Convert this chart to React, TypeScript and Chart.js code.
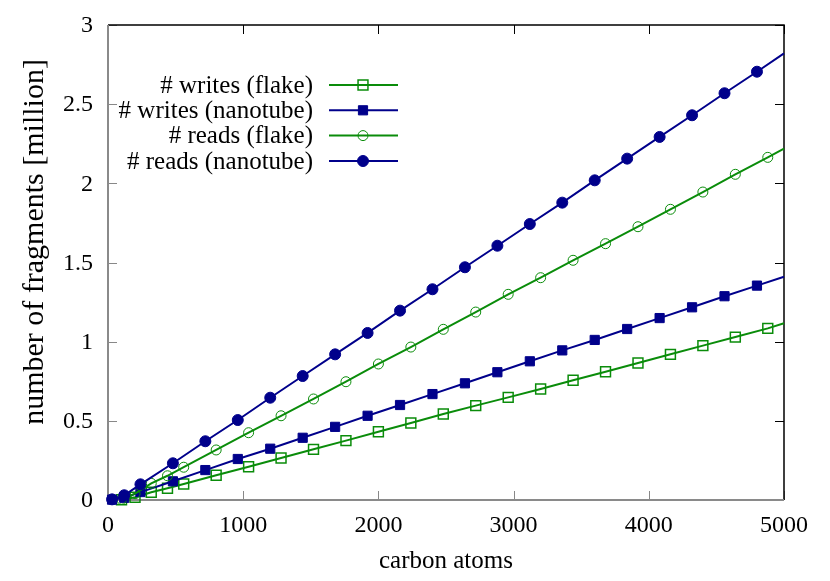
import React, { useEffect, useRef } from 'react';
import { Chart, registerables } from 'chart.js';

Chart.register(...registerables);

// ---- data ----
const xTicks = [0, 1000, 2000, 3000, 4000, 5000];
const xTickLabels = ['0', '1000', '2000', '3000', '4000', '5000'];
const yTicks = [0, 0.5, 1, 1.5, 2, 2.5, 3];
const yTickLabels = ['0', '0.5', '1', '1.5', '2', '2.5', '3'];

const seriesNames = ['# writes (flake)', '# writes (nanotube)', '# reads (flake)', '# reads (nanotube)'];

const flakeAtoms = [100, 200, 320, 440, 560, 800, 1040, 1280, 1520, 1760, 2000, 2240, 2480, 2720, 2960, 3200, 3440, 3680, 3920, 4160, 4400, 4640, 4880, 5000];
const writesFlake = [0.002, 0.017, 0.049, 0.074, 0.101, 0.156, 0.21, 0.265, 0.32, 0.375, 0.431, 0.486, 0.543, 0.596, 0.648, 0.701, 0.756, 0.81, 0.865, 0.92, 0.975, 1.029, 1.084, 1.116];
const readsFlake = [0.005, 0.04, 0.105, 0.153, 0.207, 0.316, 0.425, 0.532, 0.638, 0.747, 0.859, 0.966, 1.078, 1.187, 1.299, 1.404, 1.514, 1.619, 1.726, 1.836, 1.945, 2.057, 2.164, 2.219];

const nanotubeAtoms = [30, 120, 240, 480, 720, 960, 1200, 1440, 1680, 1920, 2160, 2400, 2640, 2880, 3120, 3360, 3600, 3840, 4080, 4320, 4560, 4800, 5000];
const writesNanotube = [0.002, 0.014, 0.05, 0.118, 0.189, 0.259, 0.324, 0.393, 0.462, 0.532, 0.6, 0.669, 0.737, 0.807, 0.876, 0.945, 1.011, 1.08, 1.149, 1.217, 1.287, 1.354, 1.41];
const readsNanotube = [0.004, 0.03, 0.099, 0.232, 0.371, 0.505, 0.646, 0.783, 0.92, 1.055, 1.196, 1.331, 1.47, 1.606, 1.743, 1.878, 2.019, 2.156, 2.293, 2.43, 2.569, 2.705, 2.821];

const GREEN = '#0a8c0a';
const BLUE = '#00008b';
const SERIF = '"Liberation Serif", "DejaVu Serif", serif';

type Style = { color: string; shape: 'rect' | 'circle'; filled: boolean; radius: number; bw: number };
const styles: Style[] = [
  { color: GREEN, shape: 'rect', filled: false, radius: 7, bw: 1.5 },
  { color: BLUE, shape: 'rect', filled: true, radius: 6.5, bw: 1 },
  { color: GREEN, shape: 'circle', filled: false, radius: 5, bw: 1 },
  { color: BLUE, shape: 'circle', filled: true, radius: 5.5, bw: 1 },
];

const pts = (xs: number[], ys: number[]) => xs.map((x, i) => ({ x, y: ys[i] }));
const radii = (xs: number[], r: number) => xs.map((_, i) => (i === xs.length - 1 ? 0 : r));

const drawMarker = (ctx: CanvasRenderingContext2D, s: Style, x: number, y: number) => {
  ctx.beginPath();
  if (s.shape === 'rect') {
    const h = s.radius * Math.SQRT1_2;
    ctx.rect(x - h, y - h, 2 * h, 2 * h);
  } else {
    ctx.arc(x, y, s.radius, 0, Math.PI * 2);
  }
  if (s.filled) {
    ctx.fillStyle = s.color;
    ctx.fill();
  }
  ctx.lineWidth = s.bw;
  ctx.strokeStyle = s.color;
  ctx.stroke();
};

const framePlugin = {
  id: 'gnuFrame',
  beforeDatasetsDraw(chart: any) {
    const { ctx, chartArea, scales } = chart;
    const { left, right, top, bottom } = chartArea;
    const xs = scales.x;
    const ys = scales.y;
    ctx.save();
    ctx.lineWidth = 1;
    const TL = 9;
    for (const v of yTicks) {
      const py = Math.round(ys.getPixelForValue(v)) + 0.5;
      ctx.strokeStyle = '#888';
      ctx.beginPath();
      ctx.moveTo(left, py);
      ctx.lineTo(left + TL, py);
      ctx.stroke();
      ctx.strokeStyle = '#000';
      ctx.beginPath();
      ctx.moveTo(right, py);
      ctx.lineTo(right - TL, py);
      ctx.stroke();
    }
    for (const v of xTicks) {
      const px = Math.round(xs.getPixelForValue(v)) + 0.5;
      ctx.strokeStyle = '#888';
      ctx.beginPath();
      ctx.moveTo(px, bottom);
      ctx.lineTo(px, bottom - TL);
      ctx.stroke();
      ctx.strokeStyle = '#000';
      ctx.beginPath();
      ctx.moveTo(px, top);
      ctx.lineTo(px, top + TL);
      ctx.stroke();
    }
    ctx.strokeStyle = '#000';
    ctx.lineWidth = 1.5;
    ctx.beginPath();
    ctx.moveTo(left, top);
    ctx.lineTo(right, top);
    ctx.lineTo(right, bottom);
    ctx.stroke();
    ctx.strokeStyle = '#8a8a8a';
    ctx.lineWidth = 2;
    ctx.beginPath();
    ctx.moveTo(left, top);
    ctx.lineTo(left, bottom);
    ctx.lineTo(right, bottom);
    ctx.stroke();
    ctx.restore();
  },
  afterDraw(chart: any) {
    const { ctx, chartArea, scales } = chart;
    const { left, right, bottom } = chartArea;
    const xs = scales.x;
    const ys = scales.y;
    ctx.save();
    ctx.fillStyle = '#000';
    // tick labels
    ctx.font = `24px ${SERIF}`;
    ctx.textAlign = 'center';
    ctx.textBaseline = 'alphabetic';
    xTicks.forEach((v, i) => {
      ctx.fillText(xTickLabels[i], xs.getPixelForValue(v), bottom + 32);
    });
    ctx.textAlign = 'right';
    ctx.textBaseline = 'middle';
    yTicks.forEach((v, i) => {
      ctx.fillText(yTickLabels[i], left - 15, ys.getPixelForValue(v) + 1);
    });
    // axis titles
    ctx.font = `25px ${SERIF}`;
    ctx.textAlign = 'center';
    ctx.textBaseline = 'alphabetic';
    ctx.fillText('carbon atoms', (left + right) / 2, bottom + 68);
    ctx.save();
    ctx.translate(43, 242);
    ctx.rotate(-Math.PI / 2);
    ctx.font = `30px ${SERIF}`;
    ctx.textAlign = 'center';
    ctx.textBaseline = 'alphabetic';
    ctx.fillText('number of fragments [million]', 0, 0);
    ctx.restore();
    // legend
    const rowY = [85, 110.3, 135.6, 161];
    ctx.font = `25px ${SERIF}`;
    ctx.textAlign = 'right';
    ctx.textBaseline = 'middle';
    seriesNames.forEach((name, i) => {
      const yv = rowY[i];
      ctx.fillStyle = '#000';
      ctx.fillText(name, 313, yv + 1);
      const s = styles[i];
      ctx.strokeStyle = s.color;
      ctx.lineWidth = 2;
      ctx.beginPath();
      ctx.moveTo(329, yv);
      ctx.lineTo(398, yv);
      ctx.stroke();
      drawMarker(ctx, s, 363, yv);
    });
    ctx.restore();
  },
};

const mkDataset = (i: number, xs: number[], ys: number[], order: number) => {
  const s = styles[i];
  return {
    label: seriesNames[i],
    data: pts(xs, ys),
    borderColor: s.color,
    borderWidth: 2,
    pointStyle: s.shape,
    pointRadius: radii(xs, s.radius),
    pointBorderWidth: s.bw,
    pointBorderColor: s.color,
    pointBackgroundColor: s.filled ? s.color : 'rgba(0,0,0,0)',
    tension: 0,
    fill: false,
    clip: false as any,
    order,
  };
};

export default function App() {
  const ref = useRef<HTMLCanvasElement | null>(null);
  useEffect(() => {
    if (!ref.current) return;
    const chart = new Chart(ref.current, {
      type: 'line',
      data: {
        datasets: [
          mkDataset(0, flakeAtoms, writesFlake, 4),
          mkDataset(1, nanotubeAtoms, writesNanotube, 3),
          mkDataset(2, flakeAtoms, readsFlake, 2),
          mkDataset(3, nanotubeAtoms, readsNanotube, 1),
        ],
      },
      options: {
        animation: false,
        responsive: true,
        maintainAspectRatio: false,
        layout: { padding: { left: 108, right: 46, top: 25, bottom: 81 } },
        scales: {
          x: { type: 'linear', display: false, min: 0, max: 5000 },
          y: { type: 'linear', display: false, min: 0, max: 3 },
        },
        plugins: {
          legend: { display: false },
          tooltip: { enabled: false },
        },
        events: [],
      },
      plugins: [framePlugin],
    });
    return () => chart.destroy();
  }, []);
  return (
    <div style={{ position: 'absolute', left: 0, top: 0, width: 830, height: 581, background: '#fff' }}>
      <canvas ref={ref} />
    </div>
  );
}
